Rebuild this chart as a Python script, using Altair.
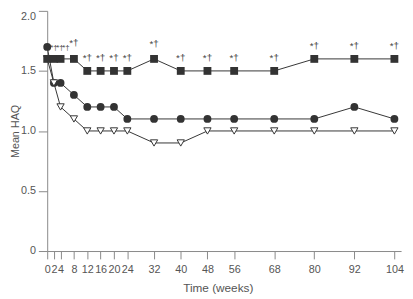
import altair as alt
import pandas as pd

weeks = [0, 2, 4, 8, 12, 16, 20, 24, 32, 40, 48, 56, 68, 80, 92, 104]
squares = [1.6, 1.6, 1.6, 1.6, 1.5, 1.5, 1.5, 1.5, 1.6, 1.5, 1.5, 1.5, 1.5, 1.6, 1.6, 1.6]
circles = [1.7, 1.4, 1.4, 1.3, 1.2, 1.2, 1.2, 1.1, 1.1, 1.1, 1.1, 1.1, 1.1, 1.1, 1.2, 1.1]
triangles = [1.6, 1.4, 1.2, 1.1, 1.0, 1.0, 1.0, 1.0, 0.9, 0.9, 1.0, 1.0, 1.0, 1.0, 1.0, 1.0]

ann_x = [2, 3.8, 5.6, 8, 12, 16, 20, 24, 32, 40, 48, 56, 68, 80, 92, 104]
ann_y = [1.69, 1.69, 1.69, 1.73, 1.61, 1.61, 1.61, 1.61, 1.72, 1.61, 1.61, 1.61, 1.61, 1.71, 1.71, 1.71]
ann_small = [True, True, True] + [False] * 13
ann_text = "*†"

x_ticks = [0, 2, 4, 8, 12, 16, 20, 24, 32, 40, 48, 56, 68, 80, 92, 104]
y_ticks = [0, 0.5, 1.0, 1.5, 2.0]

DARK = "#333333"
AX = "#888888"
LAB = "#555555"

df_sq = pd.DataFrame({"week": weeks, "v": squares})
df_ci = pd.DataFrame({"week": weeks, "v": circles})
df_tr = pd.DataFrame({"week": weeks, "v": triangles})
df_ann = pd.DataFrame({"week": ann_x, "v": ann_y, "small": ann_small, "t": [ann_text] * len(ann_x)})

xs = alt.Scale(domain=[0, 106], nice=False, zero=False)
ys = alt.Scale(domain=[0, 2], nice=False)

xax = alt.Axis(values=x_ticks, title="Time (weeks)", grid=False, tickSize=8,
               labelFontSize=11, titleFontSize=12, labelPadding=5, titlePadding=8,
               titleX=174,
               labelColor=LAB, titleColor=LAB, domainColor=AX, tickColor=AX,
               labelFont="Liberation Sans", titleFont="Liberation Sans", titleFontWeight="normal",
               labelOverlap=False, labelFlush=False)
yax = alt.Axis(values=y_ticks, title="Mean HAQ", grid=False, tickSize=9,
               labelExpr="datum.value == 0 ? '0' : format(datum.value, '.1f')",
               labelBaseline={"condition": {"test": "datum.value == 2", "value": "top"}, "value": "middle"},
               labelFontSize=11, titleFontSize=11, labelPadding=3, titlePadding=0,
               labelColor=LAB, titleColor=LAB, domainColor=AX, tickColor=AX,
               labelFont="Liberation Sans", titleFont="Liberation Sans", titleFontWeight="normal")

def series(df, shape, filled):
    base = alt.Chart(df).encode(
        x=alt.X("week:Q", scale=xs, axis=xax),
        y=alt.Y("v:Q", scale=ys, axis=yax),
    )
    line = base.mark_line(color=DARK, strokeWidth=1)
    if filled:
        pts = base.mark_point(shape=shape, filled=True, color=DARK, size=64, opacity=1)
    else:
        pts = base.mark_point(shape=shape, filled=False, fill="white", stroke=DARK,
                              strokeWidth=1, size=55, opacity=1, fillOpacity=1)
    return line + pts

c_ci = series(df_ci, "circle", True)
c_tr = series(df_tr, "triangle-down", False)
c_sq = series(df_sq, "square", True)

ann = alt.Chart(df_ann).mark_text(color="#444444", font="Liberation Sans", baseline="middle").encode(
    x=alt.X("week:Q", scale=xs, axis=xax),
    y=alt.Y("v:Q", scale=ys, axis=yax),
    text="t:N",
    size=alt.condition("datum.small", alt.value(8), alt.value(10)),
)

chart = alt.layer(c_ci, c_tr, c_sq, ann).properties(
    width=361, height=245,
    autosize=alt.AutoSizeParams(type="none"),
    padding={"left": 40, "top": 0, "right": 4, "bottom": 46},
).configure_view(stroke=None)

chart.save("out.html", embed_options={"renderer": "svg", "actions": False})
